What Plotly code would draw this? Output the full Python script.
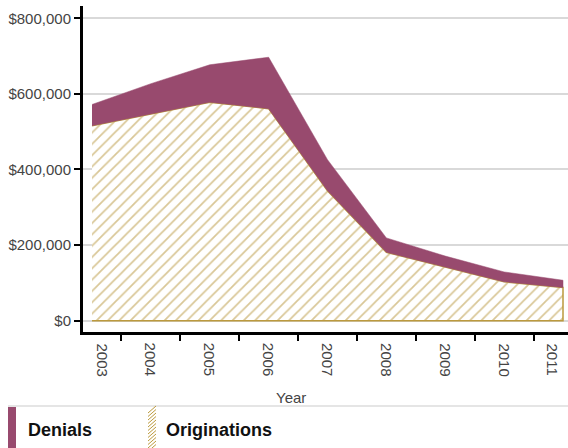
import plotly.graph_objects as go

years = [2003, 2004, 2005, 2006, 2007, 2008, 2009, 2010, 2011]
year_labels = [str(y) for y in years]
originations = [516000, 546000, 578000, 561000, 344000, 181000, 142000, 103000, 88000]
denials = [56000, 81000, 99000, 136000, 82000, 38000, 29000, 26000, 19000]
y_ticks = [0, 200000, 400000, 600000, 800000]
y_tick_labels = ["$0", "$200,000", "$400,000", "$600,000", "$800,000"]
series_names = ["Denials", "Originations"]

PURPLE = "#984A6E"
GOLD = "#BC9A3E"
HATCH = "#B39030"
FONT = "Liberation Sans, Arial, sans-serif"

W, H = 568, 448
L, R, T, B = 83, 0, 6, 116
PW, PH = W - L - R, H - T - B


def px(x):
    return (x - L) / PW


def py(y):
    return (H - B - y) / PH


totals = [o + d for o, d in zip(originations, denials)]

fig = go.Figure()
fig.add_trace(go.Scatter(
    x=years + years[::-1],
    y=originations + [0] * len(years),
    fill="toself",
    fillcolor="white",
    fillpattern=dict(shape="/", fgcolor=HATCH, bgcolor="white", size=8, solidity=0.22),
    line=dict(color=GOLD, width=1.5),
    mode="lines",
    name=series_names[1],
    showlegend=False,
))
fig.add_trace(go.Scatter(
    x=years + years[::-1],
    y=totals + originations[::-1],
    fill="toself",
    fillcolor=PURPLE,
    line=dict(color=PURPLE, width=0.5),
    mode="lines",
    name=series_names[0],
    showlegend=False,
))

# custom legend
shapes = [
    dict(type="line", xref="paper", yref="paper", x0=px(8), x1=px(568), y0=py(406), y1=py(406),
         line=dict(color="#dddddd", width=1.5)),
    dict(type="rect", xref="paper", yref="paper", x0=px(8), x1=px(16), y0=py(407), y1=py(450),
         fillcolor=PURPLE, line=dict(width=0)),
]
hatch = ""
yy = 406
while yy < 446:
    hatch += f"M{px(148)},{py(yy + 7)} L{px(156)},{py(yy)} "
    yy += 3.5
shapes.append(dict(type="path", xref="paper", yref="paper", path=hatch,
                   line=dict(color=GOLD, width=1)))

annotations = [
    dict(text="Year", xref="paper", yref="paper", x=px(291), y=py(397), xanchor="center",
         yanchor="middle", showarrow=False, font=dict(family=FONT, size=15, color="#444444")),
    dict(text="<b>Denials</b>", xref="paper", yref="paper", x=px(26), y=py(430), xanchor="left",
         yanchor="middle", showarrow=False, font=dict(family=FONT, size=18, color="#111111")),
    dict(text="<b>Originations</b>", xref="paper", yref="paper", x=px(164), y=py(430),
         xanchor="left", yanchor="middle", showarrow=False,
         font=dict(family=FONT, size=18, color="#111111")),
]
# year labels, rotated, placed on the x scale (end labels nudged inward as in the original)
shifts = {2003: 10, 2011: -11}
for yr, lab in zip(years, year_labels):
    annotations.append(dict(
        text=lab, xref="x", yref="paper", x=yr, y=py(359.5), xshift=shifts.get(yr, 0),
        xanchor="center", yanchor="middle", textangle=90, showarrow=False,
        font=dict(family=FONT, size=15, color="#444444"),
    ))

fig.update_layout(
    width=W, height=H,
    margin=dict(l=L, r=R, t=T, b=B, pad=0),
    paper_bgcolor="white", plot_bgcolor="white",
    font=dict(family=FONT, size=15, color="#444444"),
    shapes=shapes,
    annotations=annotations,
    showlegend=False,
    xaxis=dict(
        range=[2002.847, 2011.085], automargin=False,
        tickmode="array", tickvals=[y + 0.5 for y in years[:-1]],
        showticklabels=False,
        ticks="outside", ticklen=6, tickwidth=2, tickcolor="black",
        showgrid=False, zeroline=False,
        showline=True, linecolor="black", linewidth=3,
    ),
    yaxis=dict(
        range=[-29900, 832500], automargin=False,
        tickmode="array", tickvals=y_ticks, ticktext=y_tick_labels,
        ticks="outside", ticklen=6, tickwidth=2, tickcolor="black",
        showline=True, linecolor="black", linewidth=3,
        showgrid=True, gridcolor="#d9d9d9", gridwidth=1.5, zeroline=False,
        tickfont=dict(family=FONT, size=15, color="#444444"),
    ),
)

fig.write_html(
    "out.html",
    config={"displayModeBar": False},
    post_script="document.body.style.margin='0';document.body.style.padding='0';",
)
